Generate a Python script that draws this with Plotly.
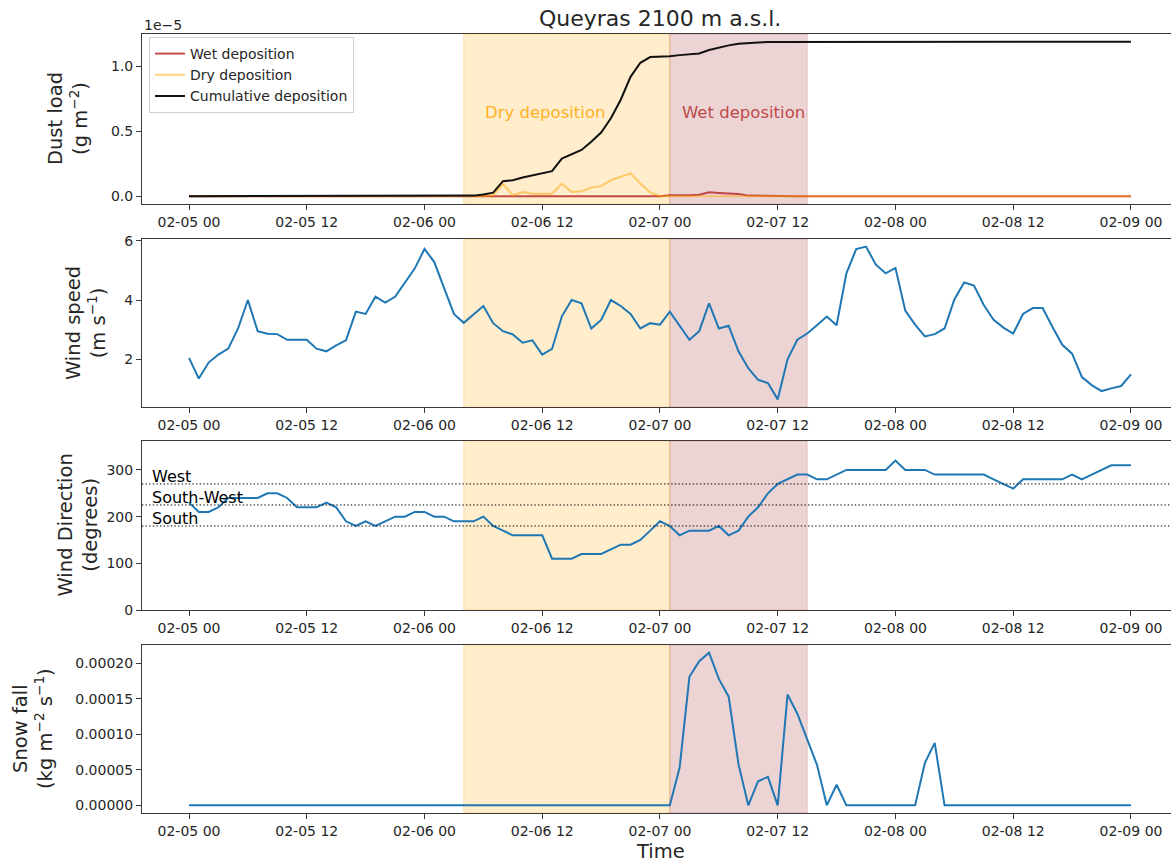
import pandas as pd
import plotly.graph_objects as go
from plotly.subplots import make_subplots

# ---------------------------------------------------------------------------
# Hourly series, Queyras 2100 m a.s.l., 2021-02-05 00:00 -> 2021-02-09 00:00
# ---------------------------------------------------------------------------
start_time = "2021-02-05 00:00"
n_hours = 97

# Dust deposition (units of 1e-5 g m-2)
wet_dep_e5 = [
    0.0, 0.0, 0.0, 0.0, 0.0, 0.0, 0.0, 0.0, 0.0, 0.0, 0.0, 0.0, 0.0, 0.0, 0.0, 0.0,
    0.0, 0.0, 0.0, 0.0, 0.0, 0.0, 0.0, 0.0, 0.0, 0.0, 0.0, 0.0, 0.0, 0.0, 0.0, 0.0,
    0.0, 0.0, 0.0, 0.0, 0.0, 0.0, 0.0, 0.0, 0.0, 0.0, 0.0, 0.0, 0.0, 0.0, 0.0, 0.0,
    0.0, 0.008, 0.006, 0.008, 0.012, 0.030, 0.025, 0.022, 0.018, 0.005, 0.003, 0.002,
    0.002, 0.0, 0.0, 0.0, 0.0, 0.0, 0.0, 0.0, 0.0, 0.0, 0.0, 0.0, 0.0, 0.0, 0.0, 0.0,
    0.0, 0.0, 0.0, 0.0, 0.0, 0.0, 0.0, 0.0, 0.0, 0.0, 0.0, 0.0, 0.0, 0.0, 0.0, 0.0,
    0.0, 0.0, 0.0, 0.0, 0.0,
]
dry_dep_e5 = [
    0.0, 0.0, 0.0, 0.0, 0.0, 0.0, 0.0, 0.0, 0.0, 0.0, 0.0, 0.0, 0.0, 0.0, 0.0, 0.0,
    0.0, 0.0, 0.0, 0.0, 0.0, 0.0, 0.0, 0.0, 0.0, 0.0, 0.0, 0.0, 0.0, 0.0, 0.0, 0.008,
    0.093, 0.008, 0.033, 0.020, 0.020, 0.020, 0.098, 0.033, 0.038, 0.067, 0.078, 0.124,
    0.150, 0.176, 0.098, 0.030, 0.0, 0.0, 0.0, 0.0, 0.0, 0.0, 0.0, 0.0, 0.0, 0.0, 0.0,
    0.0, 0.0, 0.0, 0.0, 0.0, 0.0, 0.0, 0.0, 0.0, 0.0, 0.0, 0.0, 0.0, 0.0, 0.0, 0.0,
    0.0, 0.0, 0.0, 0.0, 0.0, 0.0, 0.0, 0.0, 0.0, 0.0, 0.0, 0.0, 0.0, 0.0, 0.0, 0.0,
    0.0, 0.0, 0.0, 0.0, 0.0, 0.0,
]
cum_dep_e5 = [
    0.0, 0.0, 0.0, 0.0, 0.0, 0.0, 0.0, 0.0, 0.0, 0.0, 0.0, 0.0, 0.0, 0.0, 0.0, 0.0,
    0.0, 0.0, 0.0, 0.0, 0.0, 0.0, 0.0, 0.0, 0.0, 0.0, 0.0, 0.0, 0.003, 0.005, 0.013,
    0.028, 0.116, 0.124, 0.144, 0.162, 0.178, 0.193, 0.289, 0.325, 0.356, 0.420, 0.490,
    0.600, 0.742, 0.918, 1.026, 1.070, 1.072, 1.077, 1.085, 1.090, 1.098, 1.124, 1.144,
    1.160, 1.173, 1.180, 1.183, 1.186, 1.186, 1.187, 1.188, 1.188, 1.188, 1.188, 1.188,
    1.188, 1.188, 1.188, 1.188, 1.188, 1.188, 1.188, 1.188, 1.188, 1.188, 1.188, 1.188,
    1.188, 1.188, 1.188, 1.188, 1.188, 1.188, 1.188, 1.188, 1.188, 1.188, 1.188, 1.188,
    1.188, 1.188, 1.188, 1.188, 1.188, 1.188,
]

# Wind speed (m s-1)
wind_speed = [
    2.05, 1.35, 1.89, 2.16, 2.36, 3.04, 4.00, 2.95, 2.86, 2.85, 2.66, 2.66, 2.66, 2.36,
    2.27, 2.47, 2.64, 3.61, 3.53, 4.11, 3.91, 4.11, 4.57, 5.06, 5.72, 5.28, 4.40, 3.53,
    3.23, 3.53, 3.80, 3.22, 2.95, 2.84, 2.56, 2.64, 2.16, 2.35, 3.45, 4.00, 3.89, 3.04,
    3.33, 4.00, 3.80, 3.53, 3.04, 3.22, 3.17, 3.61, 3.13, 2.66, 2.95, 3.89, 3.04, 3.13,
    2.27, 1.70, 1.31, 1.20, 0.65, 2.00, 2.66, 2.87, 3.15, 3.44, 3.15, 4.90, 5.72, 5.80,
    5.19, 4.90, 5.08, 3.64, 3.17, 2.77, 2.85, 3.04, 4.02, 4.59, 4.49, 3.83, 3.33, 3.07,
    2.87, 3.53, 3.73, 3.73, 3.09, 2.49, 2.19, 1.40, 1.13, 0.93, 1.02, 1.10, 1.49,
]

# Wind direction (degrees)
wind_dir = [
    230, 210, 210, 220, 240, 240, 240, 240, 250, 250, 240, 220, 220, 220, 230, 220,
    190, 180, 190, 180, 190, 200, 200, 210, 210, 200, 200, 190, 190, 190, 200, 180,
    170, 160, 160, 160, 160, 110, 110, 110, 120, 120, 120, 130, 140, 140, 150, 170,
    190, 180, 160, 170, 170, 170, 180, 160, 170, 200, 220, 250, 270, 280, 290, 290,
    280, 280, 290, 300, 300, 300, 300, 300, 320, 300, 300, 300, 290, 290, 290, 290,
    290, 290, 280, 270, 260, 280, 280, 280, 280, 280, 290, 280, 290, 300, 310, 310,
    310,
]

# Snow fall (kg m-2 s-1)
snow_fall = [
    0.0, 0.0, 0.0, 0.0, 0.0, 0.0, 0.0, 0.0, 0.0, 0.0, 0.0, 0.0, 0.0, 0.0, 0.0, 0.0,
    0.0, 0.0, 0.0, 0.0, 0.0, 0.0, 0.0, 0.0, 0.0, 0.0, 0.0, 0.0, 0.0, 0.0, 0.0, 0.0,
    0.0, 0.0, 0.0, 0.0, 0.0, 0.0, 0.0, 0.0, 0.0, 0.0, 0.0, 0.0, 0.0, 0.0, 0.0, 0.0,
    0.0, 0.0, 5.3e-5, 18.1e-5, 20.3e-5, 21.5e-5, 17.8e-5, 15.3e-5, 5.8e-5, 0.0,
    3.4e-5, 4.0e-5, 0.0, 15.6e-5, 12.9e-5, 9.3e-5, 5.7e-5, 0.0, 2.9e-5, 0.0, 0.0,
    0.0, 0.0, 0.0, 0.0, 0.0, 0.0, 6.0e-5, 8.8e-5, 0.0, 0.0, 0.0, 0.0, 0.0, 0.0, 0.0,
    0.0, 0.0, 0.0, 0.0, 0.0, 0.0, 0.0, 0.0, 0.0, 0.0, 0.0, 0.0, 0.0,
]

# Deposition periods
dry_period = ("2021-02-06 04:00", "2021-02-07 01:00")
wet_period = ("2021-02-07 01:00", "2021-02-07 15:00")

# Reference wind directions
direction_lines = [("West", 270), ("South-West", 225), ("South", 180)]

x_ticks_step_h = 12

for name, s in [("wet", wet_dep_e5), ("dry", dry_dep_e5), ("cum", cum_dep_e5),
                ("ws", wind_speed), ("wd", wind_dir), ("snow", snow_fall)]:
    assert len(s) == n_hours, (name, len(s))

times = pd.date_range(start_time, periods=n_hours, freq="h")
t0 = times[0]

# ---------------------------------------------------------------------------
# Figure geometry (pixels)
# ---------------------------------------------------------------------------
W, H = 1171, 863
ML = 142
panel_px = [(34, 204), (239, 407), (441, 610), (645, 813)]


def py(p):
    return 1 - p / H


def px(p):
    return (p - ML) / (W - ML)


FONT = "DejaVu Sans"
TXT = "#262626"
AX = "#3a3a3a"
BLUE = "#1f77b4"

fig = make_subplots(rows=4, cols=1)

# --- Panel 1: dust deposition
fig.add_trace(go.Scatter(x=times, y=[v * 1e-5 for v in wet_dep_e5], mode="lines",
                         name="Wet deposition",
                         line=dict(color="rgba(178,34,34,0.8)", width=2)), row=1, col=1)
fig.add_trace(go.Scatter(x=times, y=[v * 1e-5 for v in dry_dep_e5], mode="lines",
                         name="Dry deposition",
                         line=dict(color="rgba(255,165,0,0.5)", width=2)), row=1, col=1)
fig.add_trace(go.Scatter(x=times, y=[v * 1e-5 for v in cum_dep_e5], mode="lines",
                         name="Cumulative deposition",
                         line=dict(color="#111111", width=2)), row=1, col=1)

# --- Panel 2: wind speed
fig.add_trace(go.Scatter(x=times, y=wind_speed, mode="lines", showlegend=False,
                         line=dict(color=BLUE, width=2)), row=2, col=1)

# --- Panel 3: wind direction
fig.add_trace(go.Scatter(x=times, y=wind_dir, mode="lines", showlegend=False,
                         line=dict(color=BLUE, width=2)), row=3, col=1)

# --- Panel 4: snow fall
fig.add_trace(go.Scatter(x=times, y=snow_fall, mode="lines", showlegend=False,
                         line=dict(color=BLUE, width=2)), row=4, col=1)

# Axes
x_start = t0 - pd.Timedelta(hours=4.79)
x_end = t0 + pd.Timedelta(hours=100.08)
y_ranges = [
    [-0.0594e-5, 1.2474e-5],
    [0.3925, 6.0575],
    [0, 362],
    [-1.075e-5, 22.575e-5],
]

for i in range(4):
    sfx = "" if i == 0 else str(i + 1)
    top, bot = panel_px[i]
    fig.layout["xaxis" + sfx].update(
        domain=[0, 1], range=[x_start, x_end], type="date", automargin=False,
        tickformat="%m-%d %H", tick0=t0, dtick=x_ticks_step_h * 3600 * 1000,
        ticks="outside", ticklen=5, tickwidth=1.1, tickcolor=AX,
        showline=True, linecolor=AX, linewidth=1.1, mirror=True,
        showgrid=False, zeroline=False,
        tickfont=dict(family=FONT, size=14, color=TXT),
    )
    fig.layout["yaxis" + sfx].update(
        domain=[py(bot), py(top)], range=y_ranges[i], automargin=False,
        ticks="outside", ticklen=5, tickwidth=1.1, tickcolor=AX,
        showline=True, linecolor=AX, linewidth=1.1, mirror=False,
        showgrid=False, zeroline=False,
        tickfont=dict(family=FONT, size=14, color=TXT),
    )

fig.layout.yaxis.update(tickvals=[0, 0.5e-5, 1.0e-5], ticktext=["0.0", "0.5", "1.0"])
fig.layout.yaxis2.update(tickvals=[2, 4, 6])
fig.layout.yaxis3.update(tickvals=[0, 100, 200, 300])
fig.layout.yaxis4.update(tickvals=[0, 5e-5, 10e-5, 15e-5, 20e-5], tickformat=".5f")

# Shaded deposition periods on every panel
shapes = []
for i in range(4):
    sfx = "" if i == 0 else str(i + 1)
    shapes.append(dict(type="rect", xref="x" + sfx, yref="y" + sfx + " domain",
                       x0=dry_period[0], x1=dry_period[1], y0=0, y1=1,
                       fillcolor="rgba(255,165,0,0.2)",
                       line=dict(color="rgba(255,165,0,0.25)", width=1), layer="below"))
    shapes.append(dict(type="rect", xref="x" + sfx, yref="y" + sfx + " domain",
                       x0=wet_period[0], x1=wet_period[1], y0=0, y1=1,
                       fillcolor="rgba(165,42,42,0.2)",
                       line=dict(color="rgba(165,42,42,0.22)", width=1), layer="below"))

# Reference direction lines
for label, deg in direction_lines:
    shapes.append(dict(type="line", xref="x3 domain", yref="y3", x0=0, x1=1,
                       y0=deg, y1=deg, line=dict(color="black", width=1, dash="1.4px,2.2px")))

annotations = []
for label, deg in direction_lines:
    annotations.append(dict(x=t0 - pd.Timedelta(hours=4), y=deg, xref="x3", yref="y3",
                            text=label, showarrow=False, xanchor="left", yanchor="bottom",
                            yshift=-4, font=dict(family=FONT, size=16, color="black")))

# Period labels
annotations.append(dict(x=t0 + pd.Timedelta(hours=30), y=0.645e-5, xref="x", yref="y",
                        text="Dry deposition", showarrow=False, xanchor="left",
                        yanchor="middle",
                        font=dict(family=FONT, size=16.5, color="rgba(255,165,0,0.85)")))
annotations.append(dict(x=t0 + pd.Timedelta(hours=50), y=0.645e-5, xref="x", yref="y",
                        text="Wet deposition", showarrow=False, xanchor="left",
                        yanchor="middle",
                        font=dict(family=FONT, size=16.5, color="rgba(178,34,34,0.8)")))

# Offset text for the dust axis
annotations.append(dict(x=px(142), y=py(25), xref="paper", yref="paper", text="1e\u22125",
                        showarrow=False, xanchor="left", yanchor="middle",
                        font=dict(family=FONT, size=14, color=TXT)))

# Title and x label
annotations.append(dict(x=px(660), y=py(18), xref="paper", yref="paper",
                        text="Queyras 2100 m a.s.l.", showarrow=False,
                        xanchor="center", yanchor="middle",
                        font=dict(family=FONT, size=22, color=TXT)))
annotations.append(dict(x=px(660), y=py(851), xref="paper", yref="paper",
                        text="Time", showarrow=False, xanchor="center", yanchor="middle",
                        font=dict(family=FONT, size=19.5, color=TXT)))

# Y-axis titles
y_titles = [
    ("Dust load<br>(g m<sup>\u22122</sup>)", 68),
    ("Wind speed<br>(m s<sup>\u22121</sup>)", 86),
    ("Wind Direction<br>(degrees)", 77),
    ("Snow fall<br>(kg m<sup>\u22122</sup> s<sup>\u22121</sup>)", 33),
]
for i, (txt, xc) in enumerate(y_titles):
    top, bot = panel_px[i]
    annotations.append(dict(x=px(xc), y=py((top + bot) / 2), xref="paper", yref="paper",
                            text=txt, textangle=-90, showarrow=False,
                            xanchor="center", yanchor="middle",
                            font=dict(family=FONT, size=19.5, color=TXT)))

fig.update_layout(
    width=W, height=H,
    margin=dict(l=ML, r=0, t=0, b=0, autoexpand=False),
    plot_bgcolor="white", paper_bgcolor="white",
    shapes=shapes, annotations=annotations,
    showlegend=True,
    legend=dict(x=px(149), y=py(37), xref="paper", yref="paper",
                xanchor="left", yanchor="top",
                bgcolor="rgba(255,255,255,0.85)", bordercolor="#d0d0d0", borderwidth=1,
                itemwidth=30, tracegroupgap=0,
                font=dict(family=FONT, size=14, color=TXT)),
    font=dict(family=FONT, color=TXT),
)

fig.write_html("out.html")
